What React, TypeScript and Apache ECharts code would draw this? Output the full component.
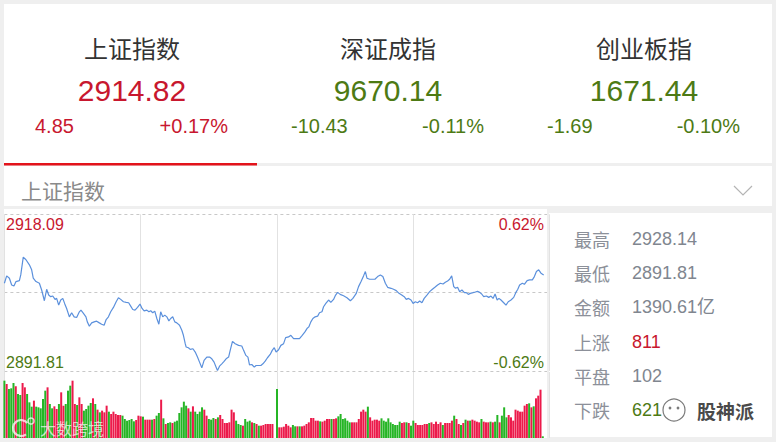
import React, { useEffect, useRef } from 'react';
import * as echarts from 'echarts';

const prevClose = 2909.97;
const indexNames = ['上证指数', '深证成指', '创业板指'];
const indexValues = ['2914.82', '9670.14', '1671.44'];
const indexChanges = ['4.85', '-10.43', '-1.69'];
const indexPcts = ['+0.17%', '-0.11%', '-0.10%'];
const indexUp = [true, false, false];

const sectionTitle = '上证指数';
const priceTickLabels = ['2918.09', '2891.81'];
const pctTickLabels = ['0.62%', '-0.62%'];
const pctRange = 0.62;

const statLabels = ['最高', '最低', '金额', '上涨', '平盘', '下跌'];
const statValues = ['2928.14', '2891.81', '1390.61亿', '811', '102', '621'];
const statKinds = ['n', 'n', 'n', 'up', 'n', 'down'];

const lineMinutes = [
  0, 1.0, 2.2, 3.2, 4.2, 5.1, 6.6, 7.2, 8.3, 9.5, 11.0, 12.0, 12.7, 13.9, 15.4, 16.4, 17.6, 18.6, 19.5, 20.4,
  21.3, 22.3, 23.0, 23.9, 24.8, 25.7, 26.5, 27.4, 28.6, 29.6, 30.7, 31.8, 33.0, 33.7, 34.8, 35.9, 36.5, 37.4, 38.4, 39.5,
  40.6, 41.8, 42.8, 43.9, 44.8, 45.8, 46.8, 48.0, 49.2, 50.2, 51.2, 52.4, 53.6, 54.7, 55.6, 56.5, 57.5, 58.6, 59.7, 60.6,
  61.5, 62.7, 63.6, 64.4, 65.3, 66.2, 67.1, 68.0, 68.8, 69.7, 70.6, 71.5, 72.4, 73.2, 74.1, 75.0, 75.9, 77.1, 78.1, 78.8,
  79.6, 80.0, 81.0, 81.8, 83.0, 84.0, 85.0, 85.9, 86.9, 87.9, 89.1, 90.3, 91.3, 92.3, 93.2, 93.8, 94.7, 95.7, 96.7, 97.6,
  98.7, 99.4, 100.4, 101.6, 103.1, 104.5, 105.3, 106.3, 107.2, 107.9, 108.9, 110.0, 110.8, 111.9, 112.9, 113.8, 114.8, 115.8, 117.0, 117.9,
  118.8, 119.6, 120.7, 121.7, 122.9, 123.8, 125.1, 126.1, 127.3, 128.8, 129.9, 131.1, 132.3, 133.2, 134.0, 134.9, 135.8, 136.8, 137.9, 138.7,
  139.8, 140.5, 141.5, 142.7, 143.7, 144.9, 145.8, 146.7, 147.8, 149.3, 150.8, 152.3, 153.4, 154.9, 155.9, 157.0, 158.1, 158.9, 159.6, 160.8,
  161.9, 163.1, 164.3, 165.5, 166.6, 167.7, 168.7, 170.2, 171.3, 172.5, 173.7, 174.9, 176.0, 176.9, 177.9, 179.0, 179.9, 180.9, 181.9, 182.8,
  183.8, 184.8, 186.0, 187.2, 188.4, 189.5, 190.7, 191.9, 193.1, 194.1, 195.1, 196.0, 196.9, 197.8, 198.6, 199.5, 200.4, 201.4, 202.5, 203.3,
  204.2, 205.1, 206.3, 207.3, 208.3, 209.2, 210.1, 211.0, 212.2, 213.2, 214.2, 215.1, 216.0, 216.9, 217.7, 218.6, 219.8, 220.8, 221.8, 223.0,
  224.2, 225.1, 226.0, 226.8, 228.0, 228.9, 230.1, 231.2, 232.4, 233.3, 234.2, 235.2, 236.2, 237.4,
];
const linePrices = [
  2912.13, 2913.83, 2913.29, 2911.74, 2911.51, 2912.52, 2912.75, 2914.06, 2918.16, 2917.54, 2916.38, 2915.22, 2913.29, 2912.52, 2912.13, 2910.58, 2908.11, 2910.74, 2909.42, 2909.04,
  2909.19, 2908.42, 2908.65, 2907.11, 2908.27, 2908.65, 2907.49, 2906.33, 2904.40, 2905.33, 2904.40, 2904.25, 2905.56, 2905.95, 2905.18, 2904.40, 2903.24, 2902.24, 2903.01, 2903.24,
  2903.40, 2903.01, 2902.70, 2902.47, 2903.78, 2904.40, 2905.56, 2906.57, 2907.88, 2908.81, 2908.42, 2907.88, 2907.72, 2907.65, 2906.87, 2906.10, 2905.95, 2906.57, 2907.34, 2906.33,
  2905.79, 2905.95, 2905.56, 2905.79, 2905.33, 2905.72, 2904.02, 2902.70, 2905.56, 2904.40, 2904.79, 2904.40, 2903.47, 2904.02, 2904.40, 2903.24, 2903.01, 2902.47, 2901.31, 2900.15,
  2898.22, 2897.45, 2897.29, 2896.91, 2897.06, 2896.29, 2895.13, 2893.97, 2892.66, 2894.36, 2895.13, 2895.13, 2894.74, 2893.97, 2892.81, 2892.04, 2893.04, 2893.58, 2894.13, 2894.74,
  2895.13, 2896.68, 2898.76, 2898.22, 2897.83, 2897.68, 2896.68, 2895.52, 2895.13, 2893.35, 2893.43, 2892.81, 2893.20, 2893.20, 2893.20, 2893.58, 2894.20, 2894.98, 2895.75, 2896.68,
  2897.29, 2896.29, 2896.83, 2897.83, 2898.22, 2899.61, 2899.77, 2900.15, 2899.38, 2899.38, 2899.38, 2900.15, 2900.93, 2901.70, 2902.08, 2903.24, 2904.02, 2904.40, 2904.56, 2905.33,
  2905.56, 2906.72, 2907.49, 2908.27, 2907.72, 2908.42, 2909.42, 2910.04, 2909.58, 2909.27, 2908.81, 2908.11, 2908.65, 2909.81, 2911.36, 2912.52, 2913.83, 2914.83, 2913.29, 2913.06,
  2913.06, 2913.06, 2913.67, 2914.06, 2913.67, 2912.13, 2911.20, 2910.97, 2910.74, 2910.43, 2909.81, 2909.42, 2909.04, 2908.42, 2908.65, 2908.27, 2907.49, 2907.88, 2907.65, 2908.03,
  2907.65, 2908.65, 2909.42, 2910.20, 2910.74, 2911.20, 2911.74, 2912.13, 2911.97, 2912.36, 2912.67, 2913.06, 2913.83, 2911.36, 2910.97, 2911.20, 2910.20, 2910.58, 2909.97, 2909.97,
  2909.58, 2909.81, 2909.97, 2910.12, 2910.28, 2910.04, 2909.66, 2909.04, 2909.19, 2908.88, 2909.19, 2908.65, 2909.66, 2908.27, 2908.65, 2908.27, 2907.65, 2907.11, 2907.88, 2908.27,
  2908.88, 2909.97, 2910.74, 2911.74, 2912.13, 2911.90, 2912.75, 2912.90, 2912.90, 2913.67, 2914.83, 2915.22, 2914.45, 2914.06,
];

const volumes = [
  172, 162, 147, 149, 165, 155, 132, 129, 165, 152,
  132, 107, 94, 112, 94, 92, 89, 117, 142, 152,
  102, 89, 95, 87, 102, 137, 97, 102, 142, 157,
  172, 102, 99, 122, 102, 82, 87, 97, 105, 119,
  102, 85, 77, 82, 77, 97, 79, 72, 79, 72,
  69, 69, 67, 57, 52, 54, 57, 50, 54, 67,
  65, 64, 55, 55, 55, 55, 57, 67, 75, 115,
  59, 42, 45, 47, 45, 49, 52, 75, 92, 109,
  97, 89, 79, 95, 79, 72, 79, 92, 85, 67,
  57, 55, 60, 57, 62, 69, 57, 45, 45, 47,
  85, 77, 52, 42, 39, 37, 57, 49, 52, 47,
  45, 42, 37, 37, 39, 42, 42, 42, 42, 0,
  147, 32, 32, 34, 42, 37, 32, 39, 35, 35,
  35, 35, 37, 42, 47, 60, 60, 52, 52, 50,
  49, 52, 57, 57, 57, 57, 59, 65, 72, 57,
  59, 52, 47, 47, 47, 47, 57, 79, 85, 79,
  94, 62, 52, 55, 55, 52, 59, 52, 49, 59,
  47, 42, 39, 39, 49, 45, 47, 47, 45, 37,
  52, 45, 39, 39, 39, 42, 42, 45, 47, 42,
  49, 42, 47, 39, 45, 45, 45, 52, 67, 57,
  42, 39, 45, 55, 52, 52, 55, 52, 49, 47,
  57, 49, 47, 47, 49, 47, 49, 69, 47, 67,
  92, 62, 69, 62, 52, 85, 82, 79, 79, 97,
  102, 104, 92, 95, 119, 127, 145, 5,
];
const volumeDirs = (
  'GRGGGRGGRR' + 'GGGRGGGGGR' + 'GGRRGRRGGG' + 'RRGRRGGGGR' + 'GRGRRRGRRR' +
  'RRGGGGGGRR' + 'RGRRRGRGGR' + 'GRGGRGGGGG' + 'GRGRGGGGRR' + 'GGGRGRRRRR' +
  'RRGGGRGGGR' + 'GRGRRRRRRR' + 'GRRRRRRGGR' + 'GRRRRRRRRG' + 'RRRRGRRGGG' +
  'GGGRRRRRRR' + 'GRRRRRGGGG' + 'GGGGGRRGRG' + 'GRRRRRRGRR' + 'RRRGRRRRGR' +
  'RGRGRGRRRR' + 'GRRRGRGGRG' + 'GGRRRRRRRR' + 'RGRGRRRG'
).split('');

const RED = '#c8172e';
const GREEN = '#4d7a14';
const BAR_RED = '#ec1a4b';
const BAR_GREEN = '#25b525';
const CJK = '"Microsoft YaHei", "Noto Sans CJK SC", sans-serif';
const NUM = 'Arial, "Liberation Sans", "Noto Sans CJK SC", sans-serif';

function txt(x: number, y: number, text: string, fill: string, fontSize: number, fontFamily: string, align = 'left', extra: any = {}) {
  return {
    type: 'text', x, y, z: 100, silent: true,
    style: { text, fill, fontSize, fontFamily, align, verticalAlign: 'middle', ...extra },
  };
}

export default function App() {
  const ref = useRef<HTMLDivElement>(null);
  useEffect(() => {
    if (!ref.current) return;
    const chart = echarts.init(ref.current, null, { renderer: 'svg' });

    const graphics: any[] = [];
    // background cards
    const bg = (x: number, y: number, w: number, h: number, fill = '#ffffff', z = -10) =>
      graphics.push({ type: 'rect', x, y, z, silent: true, shape: { x: 0, y: 0, width: w, height: h }, style: { fill } });
    bg(4, 4, 768, 159);
    bg(4, 166, 768, 40);
    bg(4, 209, 543, 229);
    bg(549, 213, 223, 224);
    bg(547, 209, 2, 233, '#efefef', 60);
    bg(4, 163, 253, 2.5, '#e3131b', 60);

    // top index cards
    indexNames.forEach((name, i) => {
      const cx = 132 + 256 * i;
      const c = indexUp[i] ? RED : GREEN;
      graphics.push(txt(cx, 47, name, '#333333', 24, CJK, 'center'));
      graphics.push(txt(cx, 90, indexValues[i], c, 30, NUM, 'center'));
      graphics.push(txt(35 + 256 * i, 126, indexChanges[i], c, 20, NUM, 'left'));
      graphics.push(txt(228 + 256 * i, 126, indexPcts[i], c, 20, NUM, 'right'));
    });

    // section header
    graphics.push(txt(21, 190, sectionTitle, '#8a8a8a', 21, CJK, 'left'));
    graphics.push({
      type: 'polyline', z: 100, silent: true,
      shape: { points: [[734, 186], [743, 195], [752, 186]] },
      style: { stroke: '#b4b4b4', lineWidth: 1.2, fill: 'none' },
    });

    // chart corner labels
    graphics.push(txt(6, 224, priceTickLabels[0], RED, 16, NUM, 'left'));
    graphics.push(txt(6, 362, priceTickLabels[1], GREEN, 16, NUM, 'left'));
    graphics.push(txt(544, 224, pctTickLabels[0], RED, 16, NUM, 'right'));
    graphics.push(txt(544, 362, pctTickLabels[1], GREEN, 16, NUM, 'right'));

    // stats panel
    statLabels.forEach((lab, i) => {
      const y = 239 + 34.2 * i;
      const vc = statKinds[i] === 'up' ? RED : statKinds[i] === 'down' ? GREEN : '#80868f';
      graphics.push(txt(574, y, lab, '#8c9099', 18, CJK, 'left'));
      graphics.push(txt(632, y, statValues[i], vc, 18, NUM, 'left'));
    });

    // watermarks
    graphics.push({
      type: 'circle', z: 110, silent: true, shape: { cx: 674, cy: 410, r: 11 },
      style: { fill: 'rgba(255,255,255,0.92)', stroke: '#7a7a7a', lineWidth: 1.2 },
    });
    graphics.push({ type: 'circle', z: 111, silent: true, shape: { cx: 670, cy: 408, r: 1.4 }, style: { fill: '#7a7a7a' } });
    graphics.push({ type: 'circle', z: 111, silent: true, shape: { cx: 678, cy: 408, r: 1.4 }, style: { fill: '#7a7a7a' } });
    graphics.push(txt(697, 410, '股神派', '#4a4a4a', 19, CJK, 'left', { fontWeight: 'bold', stroke: '#ffffff', lineWidth: 2 }));
    graphics.push({
      type: 'arc', z: 110, silent: true, shape: { cx: 21, cy: 428, r: 8, startAngle: 0.9, endAngle: 5.6, clockwise: true },
      style: { stroke: 'rgba(255,255,255,0.75)', lineWidth: 2.2, fill: 'none' },
    });
    graphics.push({ type: 'circle', z: 110, silent: true, shape: { cx: 31, cy: 421, r: 3 }, style: { stroke: 'rgba(255,255,255,0.75)', lineWidth: 1.5, fill: 'none' } });
    graphics.push(txt(40, 428, '大数跨境', 'rgba(255,255,255,0.7)', 16, CJK, 'left'));

    const hiddenAxis = { axisLine: { show: false }, axisTick: { show: false }, axisLabel: { show: false } };
    const vSplit = { show: true, lineStyle: { color: '#e2e2e2', width: 1 } };

    const option: any = {
      animation: false,
      backgroundColor: '#efefef',
      grid: [
        { left: 4.4, top: 214.3, width: 545.2, height: 156.7 },
        { left: 4.4, top: 372, width: 545.2, height: 66 },
      ],
      xAxis: [
        { type: 'value', gridIndex: 0, min: 0, max: 240, interval: 60, ...hiddenAxis, splitLine: vSplit },
        { type: 'value', gridIndex: 1, min: 0, max: 240, interval: 60, ...hiddenAxis, splitLine: vSplit },
      ],
      yAxis: [
        {
          type: 'value', gridIndex: 0, min: -pctRange, max: pctRange, interval: pctRange, ...hiddenAxis,
          splitLine: { show: true, lineStyle: { color: '#c8c8c8', type: [3, 3], width: 1 } },
        },
        { type: 'value', gridIndex: 1, min: 0, max: 198, ...hiddenAxis, splitLine: { show: false } },
      ],
      series: [
        {
          type: 'bar', xAxisIndex: 1, yAxisIndex: 1, barWidth: 2, silent: true,
          data: volumes.map((v, k) => ({
            value: [k, v],
            itemStyle: { color: volumeDirs[k] === 'R' ? BAR_RED : BAR_GREEN },
          })),
        },
        {
          type: 'line', xAxisIndex: 0, yAxisIndex: 0, showSymbol: false, symbol: 'none', silent: true,
          lineStyle: { color: '#5b90dc', width: 1.2 },
          data: lineMinutes.map((m, i) => [m, ((linePrices[i] - prevClose) / prevClose) * 100]),
          z: 5,
        },
      ],
      graphic: graphics,
    };
    chart.setOption(option);
    return () => chart.dispose();
  }, []);

  return (
    <div
      ref={ref}
      style={{ position: 'fixed', left: 0, top: 0, width: 776, height: 442 }}
    />
  );
}
